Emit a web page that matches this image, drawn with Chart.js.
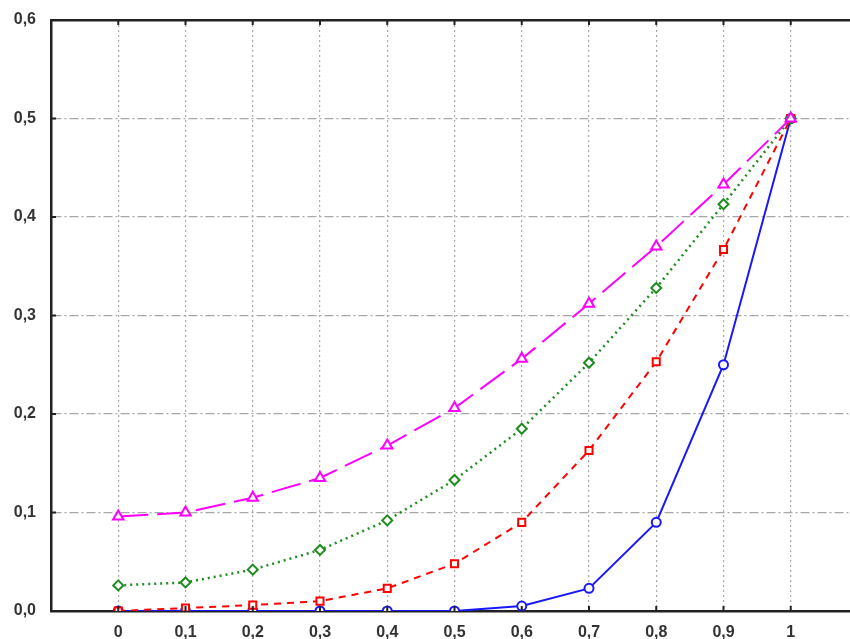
<!DOCTYPE html>
<html>
<head>
<meta charset="utf-8">
<script src="https://cdn.jsdelivr.net/npm/chart.js@4/dist/chart.umd.min.js"></script>
<style>
  html, body { margin: 0; padding: 0; background: #fff; overflow: hidden; }
  #wrap { width: 850px; height: 639px; overflow: hidden; }
</style>
</head>
<body>
<div id="wrap"><canvas id="myChart" width="870" height="639"></canvas></div>
<script>
// значения
let xs = [0, 0.1, 0.2, 0.3, 0.4, 0.5, 0.6, 0.7, 0.8, 0.9, 1];
let blueY    = [0, 0, 0, 0, 0, 0, 0.005, 0.023, 0.09, 0.25, 0.5];
let redY     = [0, 0.003, 0.006, 0.01, 0.023, 0.048, 0.09, 0.163, 0.253, 0.367, 0.5];
let greenY   = [0.026, 0.029, 0.042, 0.062, 0.092, 0.133, 0.185, 0.252, 0.328, 0.413, 0.5];
let magentaY = [0.096, 0.1, 0.115, 0.135, 0.168, 0.206, 0.256, 0.312, 0.37, 0.433, 0.5];

function points(ys){
    let arr = [];
    for(let i=0; i<xs.length; i++){
        arr.push({x: xs[i], y: ys[i]});
    }
    return arr;
}

function series(ys, color, dash, style, width, r){
    return {
        data: points(ys),
        borderColor: color,
        backgroundColor: '#fff',
        borderWidth: width,
        borderDash: dash,
        pointStyle: style,
        pointRadius: r,
        pointBorderWidth: 2,
        pointBorderColor: color,
        pointBackgroundColor: '#fff',
        tension: 0,
        fill: false
    };
}

function fmt(v){
    return (Math.round(v*10)/10).toFixed(1).replace('.', ',');
}

// маленькие засечки внутрь рамки
let innerTicks = {
    id: 'innerTicks',
    afterDraw: function(chart){
        let c = chart.ctx, a = chart.chartArea;
        let sx = chart.scales.x, sy = chart.scales.y;
        c.save();
        c.strokeStyle = '#222';
        c.lineWidth = 2;
        c.beginPath();
        sx.ticks.forEach(function(t){
            let r = Math.round(t.value*10)/10;
            if(r < 0 || r > 1) return;
            let px = sx.getPixelForValue(t.value);
            c.moveTo(px, a.bottom); c.lineTo(px, a.bottom - 5);
            c.moveTo(px, a.top); c.lineTo(px, a.top + 5);
        });
        sy.ticks.forEach(function(t){
            let py = sy.getPixelForValue(t.value);
            c.moveTo(a.left, py); c.lineTo(a.left + 5, py);
        });
        c.stroke();
        c.restore();
    }
};

let tickFont = {family: '"Liberation Sans", Arial, sans-serif', size: 16, weight: 'bold'};

let ctx = document.getElementById('myChart').getContext('2d');
let chart = new Chart(ctx, {
    type: 'line',
    data: {
        datasets: [
            series(magentaY, '#ff00ff', [30, 9], 'triangle', 2, 6),
            series(greenY, '#1e8c1e', [2, 4], 'rectRot', 2.5, 5),
            series(redY, '#ff0000', [7, 6], 'rect', 2, 5),
            series(blueY, '#1818ff', [], 'circle', 2, 4.5)
        ]
    },
    plugins: [innerTicks],
    options: {
        responsive: false,
        devicePixelRatio: 1,
        animation: false,
        layout: {padding: {top: 20, right: 12, left: 0, bottom: 0}},
        plugins: {legend: {display: false}, tooltip: {enabled: false}},
        scales: {
            x: {
                type: 'linear',
                min: -0.1,
                max: 1.1,
                afterFit: function(s){ s.height = 28; s.paddingLeft = 0; s.paddingRight = 0; },
                ticks: {
                    stepSize: 0.1,
                    color: '#333',
                    font: tickFont,
                    padding: 12,
                    callback: function(v){
                        let r = Math.round(v*10)/10;
                        if(r < 0 || r > 1) return '';
                        if(r === 0) return '0';
                        if(r === 1) return '1';
                        return fmt(r);
                    }
                },
                grid: {
                    color: function(c){
                        let r = Math.round(c.tick.value*10)/10;
                        return (r < 0 || r > 1) ? 'rgba(0,0,0,0)' : '#a8a8a8';
                    },
                    lineWidth: 1.2,
                    drawTicks: false
                },
                border: {display: true, color: '#222', width: 2.5, dash: [2, 3]}
            },
            x2: {
                type: 'linear',
                position: 'top',
                min: -0.1,
                max: 1.1,
                afterFit: function(s){ s.height = 0; },
                ticks: {display: false},
                grid: {display: false, drawTicks: false},
                border: {display: true, color: '#222', width: 2.5}
            },
            y: {
                min: 0,
                max: 0.6,
                afterFit: function(s){ s.width = 51; s.paddingTop = 0; s.paddingBottom = 0; },
                ticks: {
                    stepSize: 0.1,
                    color: '#333',
                    font: tickFont,
                    padding: 15,
                    callback: function(v){ return fmt(v); }
                },
                grid: {
                    color: function(c){
                        let v = c.tick.value;
                        return (v <= 0 || v >= 0.6) ? 'rgba(0,0,0,0)' : '#a8a8a8';
                    },
                    lineWidth: 1.2,
                    drawTicks: false
                },
                border: {display: true, color: '#222', width: 2.5, dash: [9, 3, 2, 3]}
            }
        }
    }
});
</script>
</body>
</html>
